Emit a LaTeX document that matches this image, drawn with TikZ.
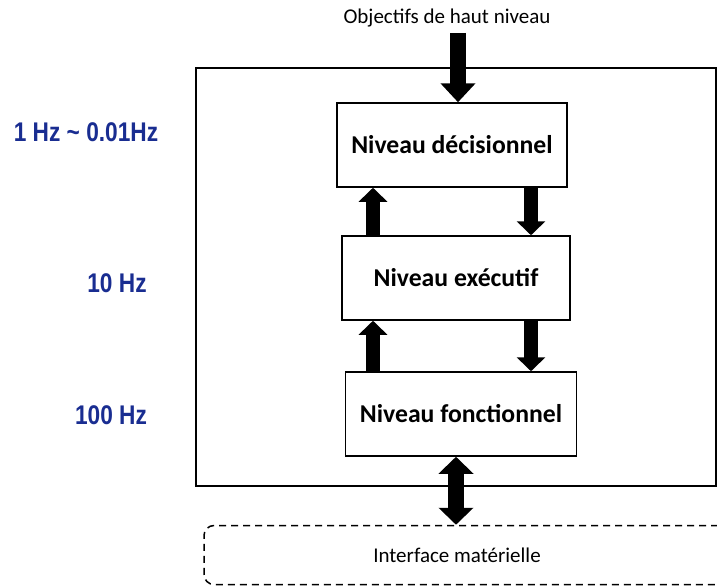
\documentclass[tikz,border=0pt]{standalone}
\usepackage{fontspec}
\setmainfont{Carlito}
\newfontfamily\hzfont{Liberation Sans}
\usetikzlibrary{arrows.meta}
\definecolor{hzblue}{RGB}{25,45,145}
\newcommand{\hzlabel}[1]{\scalebox{0.84}[1]{\hzfont\bfseries #1}}

\begin{document}
\begin{tikzpicture}[
    x=1pt, y=-1pt,
    level/.style={draw, line width=1.5pt, font=\bfseries\fontsize{25.7}{28}\selectfont, minimum height=84pt},
    freq/.style={text=hzblue, font=\fontsize{27}{30}\selectfont},
    plain/.style={font=\fontsize{21}{24}\selectfont},
    bigarrow/.style={line width=16pt, -{Triangle[width=34pt,length=19pt]}},
    midarrow/.style={line width=14pt, -{Triangle[width=28pt,length=14pt]}},
    dblarrow/.style={line width=16pt, {Triangle[width=34pt,length=17pt]}-{Triangle[width=34pt,length=17pt]}},
    hwbox/.style={draw, dashed, dash pattern=on 7pt off 5pt, line width=1.5pt, rounded corners=10pt, minimum width=572pt, minimum height=59pt}
]
\useasboundingbox (0,0) rectangle (717,586);

% Outer frame
\draw[line width=2pt] (196,68) rectangle (716,486);

% Top input
\node[plain] (obj) at (447,18) {Objectifs de haut niveau};
\coordinate (objtop) at (458,33);

% Levels
\node[level, minimum width=230pt] (dec) at (452,145) {Niveau décisionnel};
\node[level, minimum width=228pt] (exe) at (456,278) {Niveau exécutif};
\node[level, minimum width=231pt] (fon) at (461,414) {Niveau fonctionnel};

% Hardware interface
\node[hwbox] (hw) at (490,555) {};
\node[plain] (hwtext) at (457,555) {Interface matérielle};

% Frequencies
\node[freq] (f1) at (86,132) {\hzlabel{1 Hz \char`~\ 0.01Hz}};
\node[freq] (f2) at (117,283) {\hzlabel{10 Hz}};
\node[freq] (f3) at (111,415) {\hzlabel{100 Hz}};

% Arrows
\coordinate (lx) at (373,0);
\coordinate (rx) at (531,0);
\coordinate (mx) at (456,0);
\draw[bigarrow] (objtop) -- (objtop |- dec.north);
\draw[midarrow] (exe.north -| lx) -- (dec.south -| lx);
\draw[midarrow] (dec.south -| rx) -- (exe.north -| rx);
\draw[midarrow] (fon.north -| lx) -- (exe.south -| lx);
\draw[midarrow] (exe.south -| rx) -- (fon.north -| rx);
\draw[dblarrow] (fon.south -| mx) -- (hw.north -| mx);
\end{tikzpicture}
\end{document}
